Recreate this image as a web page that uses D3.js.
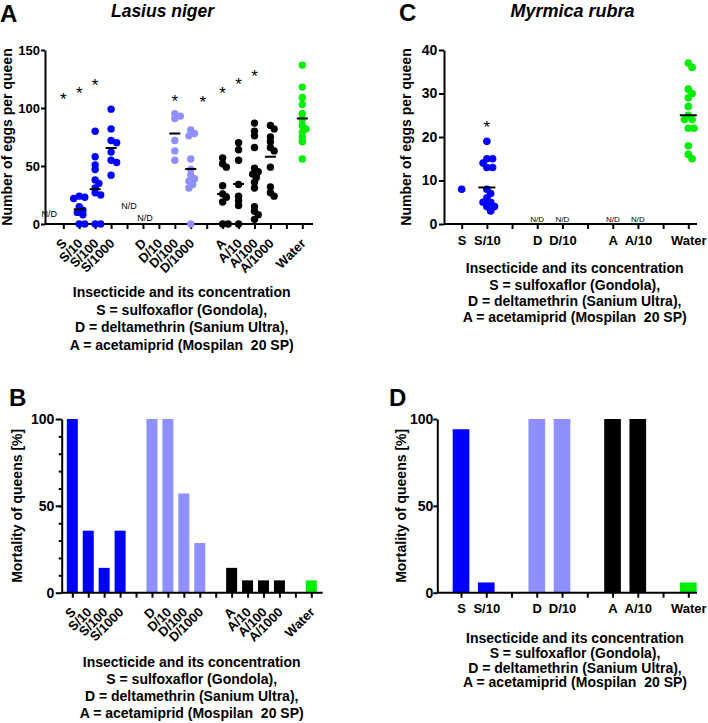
<!DOCTYPE html>
<html>
<head>
<meta charset="utf-8">
<title>Eggs and mortality of queens</title>
<script src="https://cdn.jsdelivr.net/npm/d3@7"></script>
<style>
body { margin: 0; background: #fff; }
svg { display: block; font-family: "Liberation Sans", Arial, sans-serif; }
.axis path, .axis line, .axisline { stroke: #000; stroke-width: 2px; fill: none; }
.axis text { font-weight: bold; fill: #000; }
.ytitle, .xtitle { font-weight: bold; font-size: 14px; fill: #000; white-space: pre; }
.letter { font-weight: bold; font-size: 24px; }
.species { font-weight: bold; font-style: italic; }
.star { font-size: 17px; }
</style>
</head>
<body>
<svg width="708" height="723"></svg>
<script>

// ---- Lasius niger (A, B) ----
var lnCats = ["S", "S/10", "S/100", "S/1000", "", "D", "D/10", "D/100", "D/1000", "", "A", "A/10", "A/100", "A/1000", "", "Water"];
var lnEggs = [
  [],                                              // S   N/D
  [24, 23, 22, 15, 12, 10, 8, 0, 0],               // S/10
  [80, 58, 51, 47, 38, 35, 31, 27, 25, 0, 0],      // S/100
  [99, 82, 72, 70, 62, 55, 53, 42],                // S/1000
  [],
  [],                                              // D   N/D
  [],                                              // D/10 N/D
  [95, 93, 91, 72, 63, 55],                        // D/100
  [81, 78, 76, 56, 47, 42, 39, 37, 34, 31, 0],     // D/1000
  [],
  [57, 52, 49, 33, 26, 23, 19, 0, 0],              // A
  [70, 64, 55, 34, 24, 20, 16, 0],                 // A/10
  [87, 80, 76, 66, 48, 45, 43, 40, 36, 31, 15, 11, 8, 4], // A/100
  [85, 82, 75, 71, 66, 63, 49, 32, 27, 24],        // A/1000
  [],
  [137, 118, 109, 103, 95, 90, 85, 82, 79, 75, 71, 56]   // Water
];
var lnMeans = [null, 12.7, 30, 65.5, null, null, null, 78, 47.4, null, 25.8, 34.5, 42.2, 58, null, 91];
var lnStarIdx = [0, 1, 2, 7, 8, 10, 11, 12];
var lnStarLevel = [111, 116, 123.5, 109.5, 109, 116, 124, 131];
var lnNdIdx = [0, 5, 6];
var lnNdLevel = [8.6, 15.8, 5.4];
var lnMortality = [100, 35.7, 14.3, 35.7, null, 100, 100, 57.1, 28.6, null, 14.3, 7.1, 7.1, 7.1, null, 7.1];

// ---- Myrmica rubra (C, D) ----
var mrCats = ["S", "S/10", "", "D", "D/10", "", "A", "A/10", "", "Water"];
var mrEggs = [
  [8],
  [19, 15, 15, 14, 13, 13, 8, 7, 6, 5, 5, 4, 4, 3],
  [], [], [], [], [], [], [],
  [37, 36, 31, 30, 29, 27, 25, 24, 24, 22, 22, 18, 16, 15]
];
var mrMeans = [null, 8.4, null, null, null, null, null, null, null, 25];
var mrStarIdx = [1];
var mrStarLevel = [23.2];
var mrNdIdx = [3, 4, 6, 7];
var mrNdLevel = [1.3, 1.3, 1.3, 1.3];
var mrMortality = [94.1, 5.9, null, 100, 100, null, 100, 100, null, 5.9];

var xTitleLines = ["Insecticide and its concentration",
                   "S = sulfoxaflor (Gondola),",
                   "D = deltamethrin (Sanium Ultra),",
                   "A = acetamiprid (Mospilan  20 SP)"];

var colors = { S: "#0000ff", D: "#8f8fff", A: "#000000", W: "#00ee00" };
function groupColor(label) { return colors[label.charAt(0)]; }

var svg = d3.select("svg");

// simple beeswarm: spread close values sideways, overlap allowed a bit
function swarm(values, y, r) {
  var placed = [];
  values.slice().sort(d3.descending).forEach(function(v) {
    var cy = y(v), k = 0, cand = 0;
    while (true) {
      cand = k === 0 ? 0 : (k % 2 ? 1 : -1) * Math.ceil(k / 2) * r * 0.5;
      var ok = placed.every(function(p) { return Math.hypot(p.dx - cand, p.cy - cy) >= 1.25 * r; });
      if (ok) break;
      k++;
    }
    placed.push({ v: v, dx: cand, cy: cy });
  });
  return placed;
}

function frame(p) {
  var x = d3.scalePoint().domain(d3.range(p.cats.length)).range(p.xRange);
  var y = d3.scaleLinear().domain(p.yDomain).range(p.yRange);
  var g = svg.append("g");

  g.append("line").attr("class", "axisline")
      .attr("x1", p.axisX[0]).attr("x2", p.axisX[1])
      .attr("y1", y(0)).attr("y2", y(0));

  var xa = g.append("g").attr("class", "axis")
      .attr("transform", "translate(0," + y(0) + ")")
      .call(d3.axisBottom(x).tickSize(5).tickSizeOuter(0)
        .tickFormat(function(i) { return p.cats[i]; }));
  xa.attr("font-family", null).attr("font-size", null);
  xa.select(".domain").remove();
  if (p.rotate) {
    xa.selectAll("text")
        .attr("font-size", p.xFont)
        .attr("text-anchor", "end")
        .attr("x", 0).attr("y", 0).attr("dy", "0.35em")
        .attr("transform", "translate(0.5,17) rotate(-45)");
  } else {
    xa.selectAll("text")
        .attr("font-size", p.xFont)
        .attr("y", 20.6).attr("dy", 0);
  }

  var ya = g.append("g").attr("class", "axis")
      .attr("transform", "translate(" + p.axisX[0] + ",0)")
      .call(d3.axisLeft(y).tickValues(p.yTicks).tickSize(p.tickLen)
        .tickPadding(p.tickPad).tickSizeOuter(0));
  ya.attr("font-family", null).attr("font-size", null);
  ya.selectAll("text").attr("font-size", p.yFont);

  if (p.minor) {
    var ym = g.append("g").attr("class", "axis")
        .attr("transform", "translate(" + p.axisX[0] + ",0)")
        .call(d3.axisLeft(y).tickValues(p.minor).tickSize(3).tickFormat("").tickSizeOuter(0));
    ym.select(".domain").remove();
  }

  g.append("text").attr("class", "ytitle")
      .attr("text-anchor", "middle")
      .attr("transform", "translate(" + p.yTitleX + "," + (p.yRange[0] + p.yRange[1]) / 2 + ") rotate(-90)")
      .text(p.yTitle);

  g.selectAll(".xtitle").data(xTitleLines).enter().append("text")
      .attr("class", "xtitle")
      .attr("text-anchor", "middle")
      .attr("x", p.xTitleX)
      .attr("y", function(d, i) { return p.xTitleY + i * p.xTitleGap; })
      .text(function(d) { return d; });

  g.append("text").attr("class", "letter")
      .attr("x", p.letterX).attr("y", p.letterY).text(p.letter);

  if (p.species) {
    g.append("text").attr("class", "species")
        .attr("font-size", p.speciesFont)
        .attr("text-anchor", "middle")
        .attr("x", p.speciesX).attr("y", 16.7)
        .text(p.species);
  }
  return { g: g, x: x, y: y };
}

function scatterPanel(p) {
  var f = frame(p), x = f.x, y = f.y, g = f.g;

  p.eggs.forEach(function(vals, i) {
    if (!vals.length) return;
    g.append("g").selectAll("circle")
      .data(swarm(vals, y, p.r))
      .enter().append("circle")
        .attr("cx", function(d) { return x(i) + d.dx; })
        .attr("cy", function(d) { return d.cy; })
        .attr("r", p.r)
        .attr("fill", groupColor(p.cats[i]));
  });

  p.means.forEach(function(m, i) {
    if (m == null) return;
    g.append("line")
        .attr("x1", x(i) - p.meanHalf).attr("x2", x(i) + p.meanHalf)
        .attr("y1", y(m)).attr("y2", y(m))
        .attr("stroke", "#000").attr("stroke-width", 2);
  });

  g.selectAll(".star").data(p.starIdx).enter().append("text")
      .attr("class", "star")
      .attr("text-anchor", "middle")
      .attr("x", function(d) { return x(d) + (p.starNudge[d] || 0); })
      .attr("y", function(d, k) { return y(p.starLevel[k]) + 10; })
      .text("*");

  g.selectAll(".nd").data(p.ndIdx).enter().append("text")
      .attr("class", "nd")
      .attr("font-size", p.ndFont)
      .attr("text-anchor", "middle")
      .attr("x", function(d) { return x(d) + p.ndDx; })
      .attr("y", function(d, k) { return y(p.ndLevel[k]) + 3.2; })
      .text("N/D");
}

function barPanel(p) {
  var f = frame(p), x = f.x, y = f.y, g = f.g;
  var w = x.step() * p.barFrac;
  g.insert("g", ":first-child").selectAll("rect")
    .data(p.values.map(function(v, i) { return { v: v, i: i }; })
      .filter(function(d) { return d.v != null; }))
    .enter().append("rect")
      .attr("x", function(d) { return x(d.i) - w / 2; })
      .attr("width", w)
      .attr("y", function(d) { return y(d.v); })
      .attr("height", function(d) { return y(0) - y(d.v); })
      .attr("fill", function(d) { return groupColor(p.cats[d.i]); });
}

// A
scatterPanel({
  cats: lnCats, eggs: lnEggs, means: lnMeans,
  starIdx: lnStarIdx, starLevel: lnStarLevel, starNudge: { 8: 12 },
  ndIdx: lnNdIdx, ndLevel: lnNdLevel, ndDx: -14, ndFont: 9,
  xRange: [63.3, 302.3], axisX: [45, 313],
  yDomain: [0, 150], yRange: [224, 50], yTicks: [0, 50, 100, 150],
  tickLen: 4, tickPad: 1, yFont: 13, xFont: 13, rotate: true,
  r: 3.7, meanHalf: 5.5,
  yTitle: "Number of eggs per queen", yTitleX: 12,
  xTitleX: 181.7, xTitleY: 296.7, xTitleGap: 17.8,
  letter: "A", letterX: 0, letterY: 21.7,
  species: "Lasius niger", speciesX: 162.5, speciesFont: 17.5
});

// C
scatterPanel({
  cats: mrCats, eggs: mrEggs, means: mrMeans,
  starIdx: mrStarIdx, starLevel: mrStarLevel, starNudge: {},
  ndIdx: mrNdIdx, ndLevel: mrNdLevel, ndDx: 0, ndFont: 8,
  xRange: [461.7, 688.3], axisX: [444, 697],
  yDomain: [0, 40], yRange: [224, 50], yTicks: [0, 10, 20, 30, 40],
  tickLen: 5, tickPad: 1.7, yFont: 14, xFont: 13, rotate: false,
  r: 3.8, meanHalf: 8.5,
  yTitle: "Number of eggs per queen", yTitleX: 410.5,
  xTitleX: 574.7, xTitleY: 273.3, xTitleGap: 16.3,
  letter: "C", letterX: 399, letterY: 21,
  species: "Myrmica rubra", speciesX: 572.5, speciesFont: 18
});

// B
barPanel({
  cats: lnCats, values: lnMortality, barFrac: 0.69,
  xRange: [72.3, 311.3], axisX: [61.7, 322.7],
  yDomain: [0, 100], yRange: [592.7, 419], yTicks: [0, 50, 100],
  minor: d3.range(10, 100, 10),
  tickLen: 6, tickPad: 1.4, yFont: 14, xFont: 13, rotate: true,
  yTitle: "Mortality of queens [%]", yTitleX: 22,
  xTitleX: 191.7, xTitleY: 666.7, xTitleGap: 17.2,
  letter: "B", letterX: 9, letterY: 406
});

// D
barPanel({
  cats: mrCats, values: mrMortality, barFrac: 0.66,
  xRange: [461, 688.3], axisX: [437.3, 697],
  yDomain: [0, 100], yRange: [592.7, 419], yTicks: [0, 50, 100],
  tickLen: 4, tickPad: 0, yFont: 14, xFont: 13, rotate: false,
  yTitle: "Mortality of queens [%]", yTitleX: 405.5,
  xTitleX: 575, xTitleY: 643.3, xTitleGap: 14.7,
  letter: "D", letterX: 389, letterY: 406
});

</script>
</body>
</html>
